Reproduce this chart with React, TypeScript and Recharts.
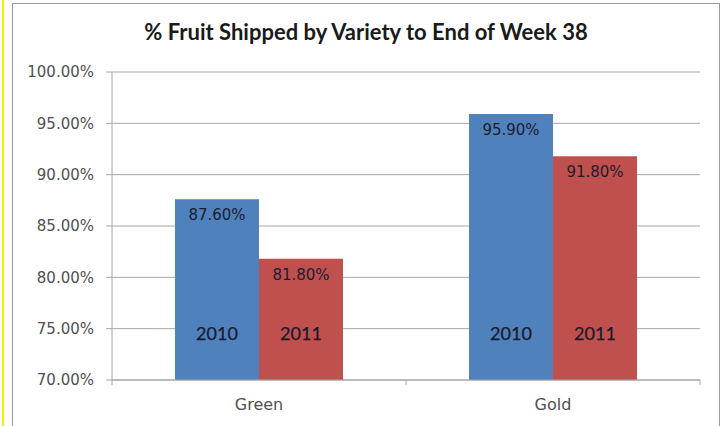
import { BarChart, Bar, XAxis, YAxis, CartesianGrid, LabelList } from 'recharts';

const categories = ['Green', 'Gold'];
const years = ['2010', '2011'];
const shipped2010 = [87.6, 95.9];
const shipped2011 = [81.8, 91.8];
const yTicks = [70, 75, 80, 85, 90, 95, 100];

const data = categories.map((name, i) => ({
  name,
  y2010: shipped2010[i],
  y2011: shipped2011[i],
}));

const colors = ['#4F81BD', '#C0504D'];
const axisGray = '#a6a6a6';

const XTick = (props: any) => {
  const { x, y, payload, index } = props;
  const half = payload && payload.offset ? payload.offset : 147;
  return (
    <g>
      <line x1={x - half} y1={y - 8} x2={x - half} y2={y - 3} stroke={axisGray} />
      {index === categories.length - 1 && (
        <line x1={x + half} y1={y - 8} x2={x + half} y2={y - 3} stroke={axisGray} />
      )}
      <text x={x} y={y + 22} textAnchor="middle" fill="#505050" fontSize={16} fontFamily="DejaVu Sans">
        {payload.value}
      </text>
    </g>
  );
};

const yearLabel = (year: string) => (props: any) => {
  const { x, y, width, height } = props;
  return (
    <text
      x={x + width / 2}
      y={y + height - 47}
      textAnchor="middle"
      dominantBaseline="central"
      fill="#1a1a2c"
      fontSize={18}
      fontFamily="Lato"
      stroke="#1a1a2c"
      strokeWidth={0.25}
    >
      {year}
    </text>
  );
};

const App = () => {
  return (
    <div style={{ position: 'relative', width: 724, height: 426, background: '#fff', overflow: 'hidden' }}>
      <style>{`body{margin:0}`}</style>
      <div style={{ position: 'absolute', left: 2, top: 0, width: 2, height: 426, background: '#f2f200' }} />
      <div
        style={{
          position: 'absolute',
          left: 12,
          top: 3,
          width: 708,
          height: 440,
          border: '1px solid #9a9a9a',
          boxSizing: 'border-box',
        }}
      />
      <div
        style={{
          position: 'absolute',
          left: 12,
          width: 708,
          top: 18,
          lineHeight: '28px',
          textAlign: 'center',
          fontFamily: 'Lato',
          fontWeight: 'bold',
          fontSize: 22,
          color: '#1a1a1a',
        }}
      >
        % Fruit Shipped by Variety to End of Week 38
      </div>
      <div style={{ position: 'absolute', left: 0, top: 0 }}>
        <BarChart
          width={724}
          height={426}
          data={data}
          margin={{ top: 72, right: 24, bottom: 16, left: 12 }}
          barCategoryGap={63}
          barGap={0}
        >
          <CartesianGrid horizontal vertical={false} stroke={axisGray} />
          <XAxis
            dataKey="name"
            height={30}
            axisLine={{ stroke: axisGray }}
            tickLine={false}
            tick={<XTick />}
            interval={0}
          />
          <YAxis
            width={100}
            domain={[70, 100]}
            ticks={yTicks}
            interval={0}
            axisLine={{ stroke: axisGray }}
            tickLine={{ stroke: axisGray }}
            tickSize={6}
            tickFormatter={(v: number) => `${v.toFixed(2)}%`}
            tick={{ fill: '#505050', fontSize: 15, fontFamily: 'DejaVu Sans', dx: -10 }}
          />
          <Bar dataKey="y2010" fill={colors[0]} isAnimationActive={false}>
            <LabelList
              dataKey="y2010"
              position="insideTop"
              offset={10}
              formatter={(v: any) => `${Number(v).toFixed(2)}%`}
              style={{ fill: '#1c1c30', fontSize: 15, fontFamily: 'DejaVu Sans' }}
            />
            <LabelList dataKey="y2010" content={yearLabel(years[0])} />
          </Bar>
          <Bar dataKey="y2011" fill={colors[1]} isAnimationActive={false}>
            <LabelList
              dataKey="y2011"
              position="insideTop"
              offset={10}
              formatter={(v: any) => `${Number(v).toFixed(2)}%`}
              style={{ fill: '#1c1c30', fontSize: 15, fontFamily: 'DejaVu Sans' }}
            />
            <LabelList dataKey="y2011" content={yearLabel(years[1])} />
          </Bar>
        </BarChart>
      </div>
    </div>
  );
};

export default App;
